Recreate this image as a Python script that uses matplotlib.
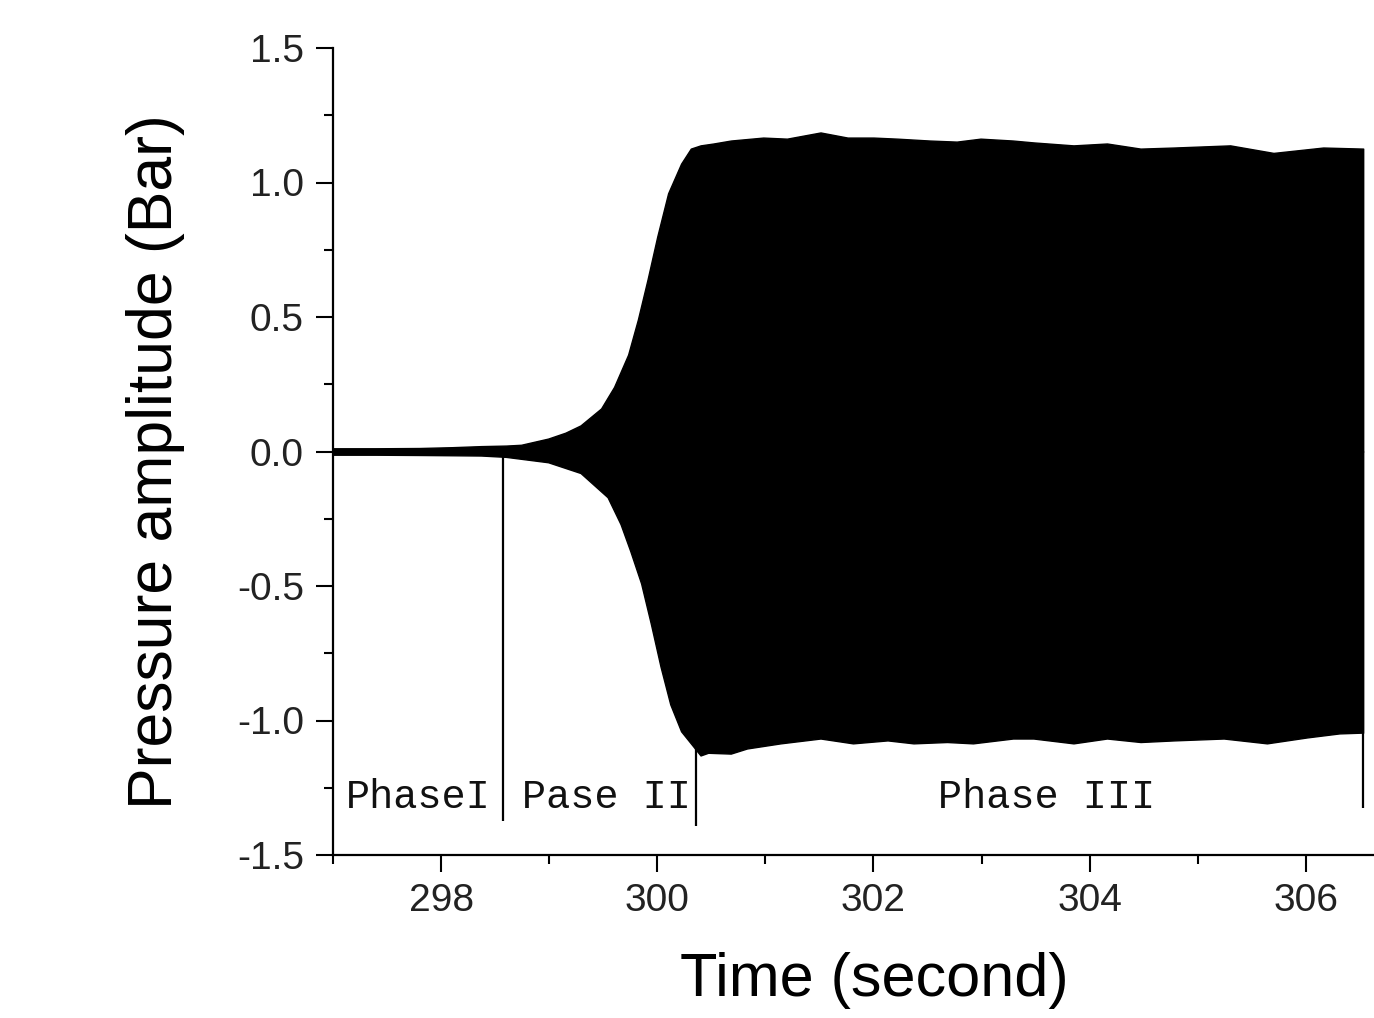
import numpy as np
import matplotlib
matplotlib.use("Agg")
import matplotlib.pyplot as plt
from matplotlib.ticker import MultipleLocator, FormatStrFormatter

plt.rcParams['font.family'] = ['Liberation Sans', 'DejaVu Sans']
plt.rcParams['axes.unicode_minus'] = False

# upper envelope of the pressure signal (time s, amplitude bar)
t_up = [297.0, 297.4, 297.8, 298.1, 298.37, 298.6, 298.74, 298.99, 299.15, 299.29,
        299.48, 299.60, 299.73, 299.82, 299.91, 300.00, 300.10, 300.22, 300.31,
        300.40, 300.52, 300.68, 300.98, 301.20, 301.51, 301.76, 302.00, 302.22,
        302.52, 302.77, 302.99, 303.29, 303.48, 303.85, 304.16, 304.47, 304.78,
        305.30, 305.70, 306.16, 306.53]
amp_up = [0.012, 0.012, 0.013, 0.016, 0.02, 0.022, 0.025, 0.048, 0.07, 0.097,
          0.16, 0.24, 0.36, 0.49, 0.64, 0.80, 0.96, 1.07, 1.126,
          1.138, 1.145, 1.156, 1.167, 1.163, 1.186, 1.167, 1.167, 1.163,
          1.156, 1.152, 1.163, 1.156, 1.149, 1.138, 1.145, 1.126, 1.13,
          1.138, 1.11, 1.13, 1.126]

# lower envelope
t_lo = [297.0, 297.4, 297.8, 298.1, 298.37, 298.6, 298.99, 299.29, 299.54, 299.66,
        299.75, 299.85, 299.94, 300.03, 300.12, 300.22, 300.31, 300.40, 300.47,
        300.68, 300.83, 301.14, 301.51, 301.81, 302.13, 302.37, 302.68, 302.92,
        303.29, 303.48, 303.85, 304.16, 304.47, 304.78, 305.24, 305.64, 306.01,
        306.31, 306.53]
amp_lo = [-0.012, -0.012, -0.013, -0.014, -0.015, -0.02, -0.04, -0.08, -0.17, -0.27,
          -0.37, -0.49, -0.64, -0.80, -0.94, -1.04, -1.085, -1.13, -1.12,
          -1.123, -1.104, -1.085, -1.067, -1.085, -1.074, -1.085, -1.08, -1.085,
          -1.067, -1.067, -1.085, -1.067, -1.08, -1.074, -1.067, -1.085, -1.063,
          -1.048, -1.045]

# phase boundary markers
bound_t = [298.57, 300.36, 306.53]
bound_bottom = [-1.372, -1.394, -1.327]
bound_top = [0.0, -1.10, -1.045]

phase_names = ["PhaseI", "Pase II", "Phase III"]
phase_t = [297.12, 298.75, 302.60]

fig = plt.figure(figsize=(13.74, 10.18), dpi=100)
ax = fig.add_axes([333/1374, 1 - 855/1018, 1 - 333/1374, (855 - 48)/1018])

ax.fill_between(t_up, amp_up, 0, color="black", lw=1.0)
ax.fill_between(t_lo, 0, amp_lo, color="black", lw=1.0)
ax.vlines(bound_t, bound_bottom, bound_top, color="black", lw=1.6)

for name, t0 in zip(phase_names, phase_t):
    ax.text(t0, -1.327, name, family=["Liberation Mono", "DejaVu Sans Mono"],
            fontsize=29, ha="left", va="baseline", color="#111111")

ax.set_xlim(297.0, 306.63)
ax.set_ylim(-1.5, 1.5)
ax.xaxis.set_major_locator(MultipleLocator(2))
ax.xaxis.set_minor_locator(MultipleLocator(1))
ax.yaxis.set_major_locator(MultipleLocator(0.5))
ax.yaxis.set_minor_locator(MultipleLocator(0.25))
ax.yaxis.set_major_formatter(FormatStrFormatter("%.1f"))

for side in ["top", "right"]:
    ax.spines[side].set_visible(False)
for side in ["left", "bottom"]:
    ax.spines[side].set_linewidth(1.6)

ax.tick_params(which="major", direction="out", length=12, width=1.5,
               labelsize=28, labelcolor="#222222")
ax.tick_params(which="minor", direction="out", length=6.5, width=1.5)
ax.tick_params(axis="y", which="major", pad=9)
ax.tick_params(axis="x", which="major", pad=8)

ax.set_xlabel("Time (second)", fontsize=44)
ax.xaxis.set_label_coords(0.52, -0.12)
ax.xaxis.label.set_va("top")
ax.set_ylabel("Pressure amplitude (Bar)", fontsize=45)
ax.yaxis.set_label_coords(-0.142, 0.488)

fig.savefig("out.png", dpi=100)
